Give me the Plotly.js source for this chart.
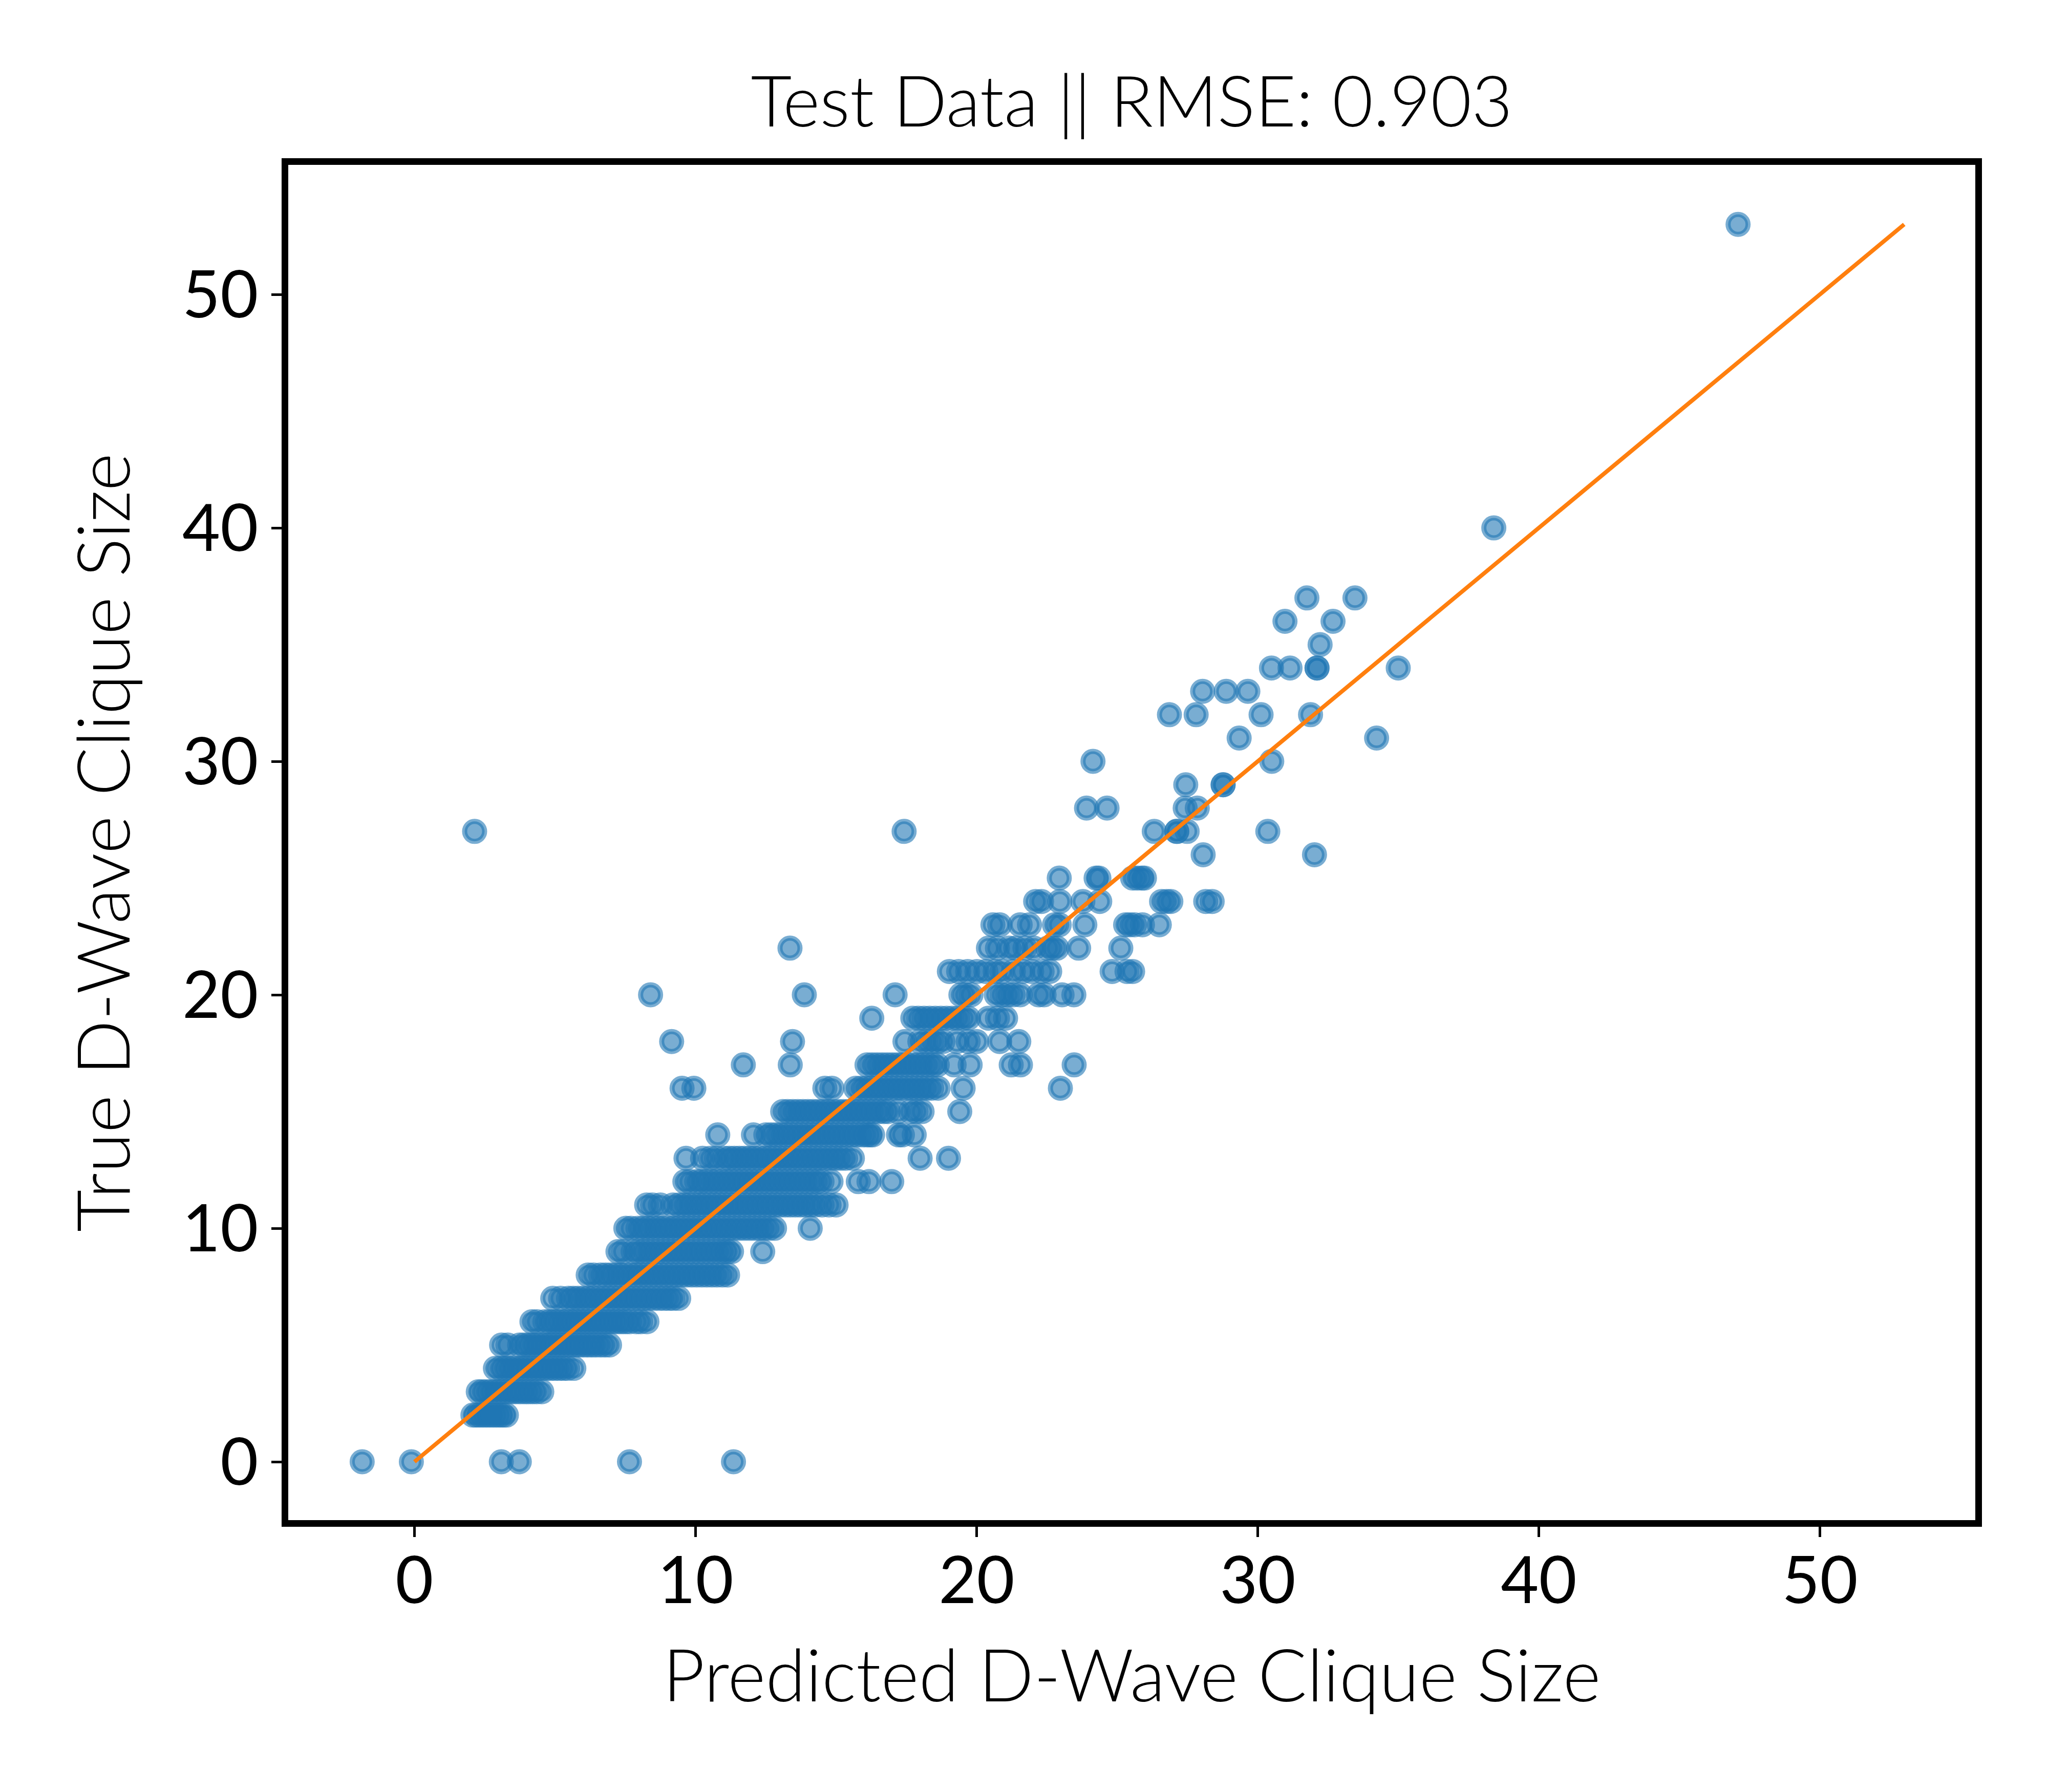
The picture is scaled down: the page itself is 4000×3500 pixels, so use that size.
<!DOCTYPE html>
<html>
<head>
<meta charset="utf-8">
<script src="https://cdn.plot.ly/plotly-3.0.1.min.js"></script>
<style>html,body{margin:0;padding:0;background:#fff;}#chart{width:4000px;height:3500px;}</style>
</head>
<body>
<div id="chart"></div>
<script>
// True D-Wave clique size (y) and predicted values (x) read per row
const trueSizes = [0,2,3,4,5,6,7,8,9,10,11,12,13,14,15,16,17,18,19,20,21,22,23,24,25,26,27,28,29,30,31,32,33,34,35,36,37,40,53];
const p0 = [-1.86, -0.11, 3.09, 3.73, 7.65, 11.35];
const p2 = [2.08, 2.2, 2.32, 2.44, 2.56, 2.68, 2.8, 2.92, 3.04, 3.15, 3.27];
const p3 = [2.27, 2.4, 2.55, 2.7, 2.85, 3.0, 3.15, 3.3, 3.45, 3.6, 3.75, 3.9, 4.05, 4.2, 4.35, 4.53];
const p4 = [2.88, 3.05, 3.2, 3.35, 3.5, 3.65, 3.8, 3.95, 4.1, 4.25, 4.4, 4.55, 4.7, 4.85, 5.0, 5.15, 5.3, 5.45, 5.67];
const p5 = [3.1, 3.32, 3.74, 3.9, 4.05, 4.2, 4.35, 4.5, 4.65, 4.8, 4.95, 5.1, 5.25, 5.4, 5.55, 5.7, 5.85, 6.0, 6.15, 6.3, 6.45, 6.62, 6.78, 6.94];
const p6 = [4.18, 4.36, 4.64, 4.8, 4.95, 5.1, 5.25, 5.4, 5.55, 5.7, 5.85, 6.0, 6.15, 6.3, 6.45, 6.6, 6.75, 6.9, 7.05, 7.2, 7.35, 7.5, 7.65, 7.89, 8.05, 8.27];
const p7 = [4.92, 5.2, 5.48, 5.65, 5.82, 6.0, 6.18, 6.36, 6.54, 6.72, 6.9, 7.08, 7.26, 7.44, 7.62, 7.8, 7.98, 8.16, 8.34, 8.52, 8.7, 8.88, 9.05, 9.2, 9.4];
const p8 = [6.18, 6.37, 6.62, 6.8, 6.98, 7.16, 7.34, 7.52, 7.7, 7.88, 8.06, 8.24, 8.42, 8.6, 8.78, 8.96, 9.14, 9.32, 9.5, 9.68, 9.86, 10.04, 10.22, 10.4, 10.58, 10.76, 10.95, 11.14];
const p9 = [7.24, 7.43, 7.78, 7.95, 8.13, 8.31, 8.49, 8.67, 8.85, 9.03, 9.21, 9.39, 9.57, 9.75, 9.93, 10.11, 10.29, 10.47, 10.65, 10.83, 11.0, 11.14, 11.28, 12.39];
const p10 = [7.52, 7.7, 7.95, 8.13, 8.31, 8.49, 8.67, 8.85, 9.03, 9.21, 9.39, 9.57, 9.75, 9.93, 10.11, 10.29, 10.47, 10.65, 10.83, 11.01, 11.19, 11.37, 11.55, 11.73, 11.91, 12.09, 12.27, 12.45, 12.63, 12.81, 14.08];
const p11 = [8.26, 8.47, 8.75, 9.2, 9.41, 9.59, 9.77, 9.95, 10.13, 10.31, 10.49, 10.67, 10.85, 11.03, 11.21, 11.39, 11.57, 11.75, 11.93, 12.11, 12.29, 12.47, 12.65, 12.83, 13.01, 13.19, 13.37, 13.55, 13.73, 13.91, 14.09, 14.27, 14.5, 14.75, 15.0];
const p12 = [9.62, 9.79, 10.04, 10.2, 10.38, 10.56, 10.74, 10.92, 11.1, 11.28, 11.46, 11.64, 11.82, 12.0, 12.18, 12.36, 12.54, 12.72, 12.9, 13.08, 13.26, 13.44, 13.62, 13.8, 13.98, 14.16, 14.34, 14.5, 14.82, 15.79, 16.17, 16.98];
const p13 = [9.66, 10.25, 10.53, 10.74, 11.02, 11.2, 11.38, 11.56, 11.74, 11.92, 12.1, 12.28, 12.46, 12.64, 12.82, 13.0, 13.18, 13.36, 13.54, 13.72, 13.9, 14.08, 14.26, 14.44, 14.62, 14.8, 14.98, 15.16, 15.34, 15.58, 17.99, 19.0];
const p14 = [10.79, 12.06, 12.5, 12.68, 12.86, 13.04, 13.22, 13.4, 13.58, 13.76, 13.94, 14.12, 14.3, 14.48, 14.66, 14.84, 15.02, 15.2, 15.38, 15.56, 15.74, 15.92, 16.08, 16.2, 16.3, 17.22, 17.36, 17.78];
const p15 = [13.1, 13.28, 13.46, 13.64, 13.82, 14.0, 14.18, 14.36, 14.54, 14.72, 14.9, 15.08, 15.26, 15.44, 15.62, 15.8, 15.98, 16.16, 16.34, 16.52, 16.7, 16.85, 17.2, 17.65, 17.85, 18.06, 19.4];
const p16 = [9.52, 9.94, 14.6, 14.85, 15.7, 15.88, 16.06, 16.24, 16.42, 16.6, 16.78, 16.96, 17.14, 17.32, 17.5, 17.68, 17.86, 18.04, 18.22, 18.4, 18.63, 19.52, 22.98];
const p17 = [11.7, 13.37, 16.1, 16.28, 16.46, 16.64, 16.82, 17.0, 17.18, 17.36, 17.54, 17.72, 17.9, 18.08, 18.26, 18.44, 18.6, 19.2, 19.77, 21.23, 21.56, 23.47];
const p18 = [9.15, 13.45, 17.45, 17.98, 18.2, 18.4, 18.6, 18.8, 19.3, 19.7, 20.0, 20.82, 21.5];
const p19 = [16.27, 17.73, 17.93, 18.13, 18.33, 18.53, 18.73, 18.93, 19.13, 19.33, 19.53, 19.7, 20.42, 20.74, 21.03];
const p20 = [8.4, 13.87, 17.1, 19.44, 19.6, 19.8, 20.7, 20.9, 21.1, 21.3, 21.55, 22.2, 22.4, 23.04, 23.46];
const p21 = [19.03, 19.36, 19.68, 20.01, 20.33, 20.66, 20.9, 21.31, 21.64, 21.96, 22.33, 22.6, 24.82, 25.35, 25.55];
const p22 = [13.36, 20.42, 20.74, 21.15, 21.39, 21.72, 22.04, 22.53, 22.69, 22.86, 23.63, 25.13];
const p23 = [20.58, 20.82, 21.55, 21.88, 22.77, 22.94, 23.85, 25.3, 25.45, 25.62, 25.9, 26.5];
const p24 = [22.1, 22.31, 22.96, 23.78, 24.38, 26.58, 26.76, 26.91, 28.15, 28.38];
const p25 = [22.94, 24.25, 24.35, 25.55, 25.71, 25.87, 25.97];
const p26 = [28.06, 32.02];
const p27 = [2.14, 17.42, 26.32, 27.12, 27.12, 27.49, 30.36];
const p28 = [23.91, 24.64, 27.42, 27.85];
const p29 = [27.44, 28.77, 28.77];
const p30 = [24.14, 30.5];
const p31 = [29.34, 34.23];
const p32 = [26.86, 27.81, 30.12, 31.88];
const p33 = [28.04, 28.88, 29.65];
const p34 = [30.49, 31.15, 32.11, 32.11, 35.0];
const p35 = [32.22];
const p36 = [30.97, 32.68];
const p37 = [31.75, 33.46];
const p40 = [38.4];
const p53 = [47.09];
const predRows = [p0,p2,p3,p4,p5,p6,p7,p8,p9,p10,p11,p12,p13,p14,p15,p16,p17,p18,p19,p20,p21,p22,p23,p24,p25,p26,p27,p28,p29,p30,p31,p32,p33,p34,p35,p36,p37,p40,p53];

// identity reference line
const lineX = [0, 53];
const lineY = [0, 53];

const xTicks = [0, 10, 20, 30, 40, 50];
const yTicks = [0, 10, 20, 30, 40, 50];

const xs = [], ys = [];
predRows.forEach((row, i) => {
  row.forEach(v => { xs.push(v); ys.push(trueSizes[i]); });
});

const FONT = 'Lato, "Noto Sans", sans-serif';

const traces = [
  {
    type: 'scatter', mode: 'markers', x: xs, y: ys,
    marker: {
      symbol: 'circle', size: 39,
      color: 'rgba(31,119,180,0.6)',
      line: {color: 'rgba(31,119,180,0.6)', width: 10}
    },
    hoverinfo: 'skip', showlegend: false
  },
  {
    type: 'scatter', mode: 'lines', x: lineX, y: lineY,
    line: {color: '#ff7f0e', width: 8},
    hoverinfo: 'skip', showlegend: false
  }
];

const axisCommon = {
  showgrid: false, zeroline: false,
  showline: true, linecolor: '#000', linewidth: 13, mirror: true,
  ticks: 'outside', ticklen: 20, tickwidth: 5, tickcolor: '#000',
  tickfont: {family: FONT, size: 128, color: '#000'}
};

const layout = {
  width: 4000, height: 3500,
  margin: {l: 563, r: 142, t: 322, b: 531, pad: 0},
  paper_bgcolor: '#fff', plot_bgcolor: '#fff',
  font: {family: FONT, color: '#000'},
  title: {
    text: 'Test Data || RMSE: 0.903',
    font: {family: FONT, size: 138, color: '#000', weight: 300},
    x: 0.5, xref: 'paper', xanchor: 'center',
    y: 0.9431, yref: 'container', yanchor: 'middle'
  },
  xaxis: Object.assign({}, axisCommon, {
    range: [-4.49, 55.53],
    tickmode: 'array', tickvals: xTicks, ticktext: xTicks.map(String),
    ticklabelstandoff: -25,
    title: {text: 'Predicted D-Wave Clique Size', font: {family: FONT, size: 142, color: '#000', weight: 300}, standoff: 72}
  }),
  yaxis: Object.assign({}, axisCommon, {
    range: [-2.5, 55.55],
    tickmode: 'array', tickvals: yTicks, ticktext: yTicks.map(String),
    title: {text: 'True D-Wave Clique Size', font: {family: FONT, size: 142, color: '#000', weight: 300}, standoff: 60}
  }),
  showlegend: false
};

Plotly.newPlot('chart', traces, layout, {displayModeBar: false, staticPlot: true});
</script>
</body>
</html>
